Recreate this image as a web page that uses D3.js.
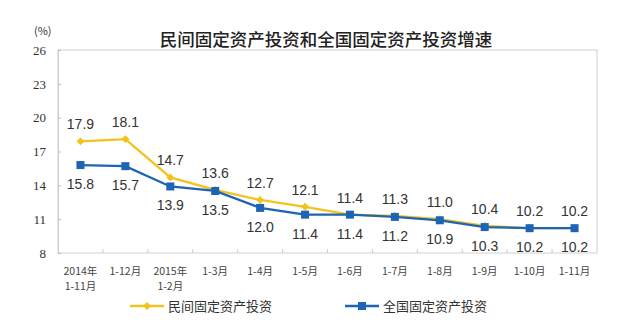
<!DOCTYPE html>
<html><head><meta charset="utf-8">
<script src="https://cdn.jsdelivr.net/npm/d3@7"></script>
<style>body{margin:0;background:#fff}</style>
</head><body><svg id="c" width="640" height="335"></svg>
<script>
const categories = [["2014年","1-11月"],["1-12月"],["2015年","1-2月"],["1-3月"],["1-4月"],["1-5月"],["1-6月"],["1-7月"],["1-8月"],["1-9月"],["1-10月"],["1-11月"]];
const privateInv = [17.9,18.1,14.7,13.6,12.7,12.1,11.4,11.3,11.0,10.4,10.2,10.2];
const nationalInv = [15.8,15.7,13.9,13.5,12.0,11.4,11.4,11.2,10.9,10.3,10.2,10.2];
const yTicks = [8,11,14,17,20,23,26];
const seriesNames = ["民间固定资产投资","全国固定资产投资"];
const title = "民间固定资产投资和全国固定资产投资增速";

const svg = d3.select("#c");
const L=58,R=597,T=50,B=253;
const font = "'Liberation Sans', Arial, sans-serif";
const cjk = "'Noto Sans CJK SC', sans-serif";
const x = d3.scaleBand().domain(d3.range(categories.length)).range([L,R]);
const y = d3.scaleLinear().domain([8,26]).range([B,T]);
const cx = i => x(i)+x.bandwidth()/2;

svg.append("text").attr("x",326).attr("y",46).attr("text-anchor","middle")
  .style("font-family",cjk).style("font-size","17.5px").style("font-weight","500").attr("fill","#222").text(title);
svg.append("text").attr("x",34).attr("y",35).style("font-family",cjk).style("font-size","11px").attr("fill","#333").text("(%)");

svg.append("rect").attr("x",L).attr("y",T).attr("width",R-L).attr("height",B-T).attr("fill","none").attr("stroke","#d0d0d0");

// y axis
const ya = svg.append("g").attr("transform",`translate(${L},0)`).call(d3.axisLeft(y).tickValues(yTicks).tickSize(-3).tickPadding(12));
ya.select(".domain").attr("stroke","#d0d0d0");
ya.selectAll(".tick line").attr("stroke","#bbb");
ya.selectAll("text").style("font-family","'Liberation Serif', 'Times New Roman', serif").style("font-size","13px").attr("fill","#333");

// x boundary ticks
svg.append("g").selectAll("line").data(d3.range(1,categories.length)).join("line")
  .attr("x1",i=>x(i)).attr("x2",i=>x(i)).attr("y1",B).attr("y2",B-4).attr("stroke","#ccc");

// x labels
const xl = svg.append("g").selectAll("text").data(categories).join("text")
  .attr("x",(d,i)=>cx(i)).attr("y",275).attr("text-anchor","middle")
  .style("font-family",cjk).style("font-size","10.5px").attr("fill","#444");
xl.each(function(d){ const t=d3.select(this); d.forEach((s,k)=>t.append("tspan").attr("x",t.attr("x")).attr("dy",k?15:0).text(s)); });

const line = d3.line().x((d,i)=>cx(i)).y(d=>y(d));
const yellow="#F2C31C", blue="#1C64B4";

svg.append("path").datum(privateInv).attr("d",line).attr("fill","none").attr("stroke",yellow).attr("stroke-width",2.3);
svg.append("g").selectAll("path").data(privateInv).join("path")
  .attr("d",d3.symbol(d3.symbolDiamond2,40)).attr("transform",(d,i)=>`translate(${cx(i)},${y(d)})`).attr("fill",yellow);

svg.append("path").datum(nationalInv).attr("d",line).attr("fill","none").attr("stroke",blue).attr("stroke-width",2.3);
svg.append("g").selectAll("rect").data(nationalInv).join("rect")
  .attr("x",(d,i)=>cx(i)-4).attr("y",d=>y(d)-4).attr("width",8).attr("height",8).attr("fill",blue);

svg.append("g").selectAll("text").data(privateInv).join("text")
  .attr("x",(d,i)=>cx(i)).attr("y",d=>y(d)-12).attr("text-anchor","middle")
  .style("font-family",font).style("font-size","14px").attr("fill","#333").text(d=>d.toFixed(1));
svg.append("g").selectAll("text").data(nationalInv).join("text")
  .attr("x",(d,i)=>cx(i)).attr("y",d=>y(d)+24).attr("text-anchor","middle")
  .style("font-family",font).style("font-size","14px").attr("fill","#333").text(d=>d.toFixed(1));

// legend
const leg=[{x:130,c:yellow,s:"d"},{x:345,c:blue,s:"s"}];
leg.forEach((l,k)=>{
  const g=svg.append("g");
  g.append("line").attr("x1",l.x).attr("x2",l.x+34).attr("y1",306).attr("y2",306).attr("stroke",l.c).attr("stroke-width",2.3);
  if(l.s==="d") g.append("path").attr("d",d3.symbol(d3.symbolDiamond2,40)).attr("transform",`translate(${l.x+17},306)`).attr("fill",l.c);
  else g.append("rect").attr("x",l.x+13).attr("y",302).attr("width",8).attr("height",8).attr("fill",l.c);
  g.append("text").attr("x",l.x+38).attr("y",311).style("font-family",cjk).style("font-size","13px").attr("fill","#333").text(seriesNames[k]);
});
</script></body></html>
